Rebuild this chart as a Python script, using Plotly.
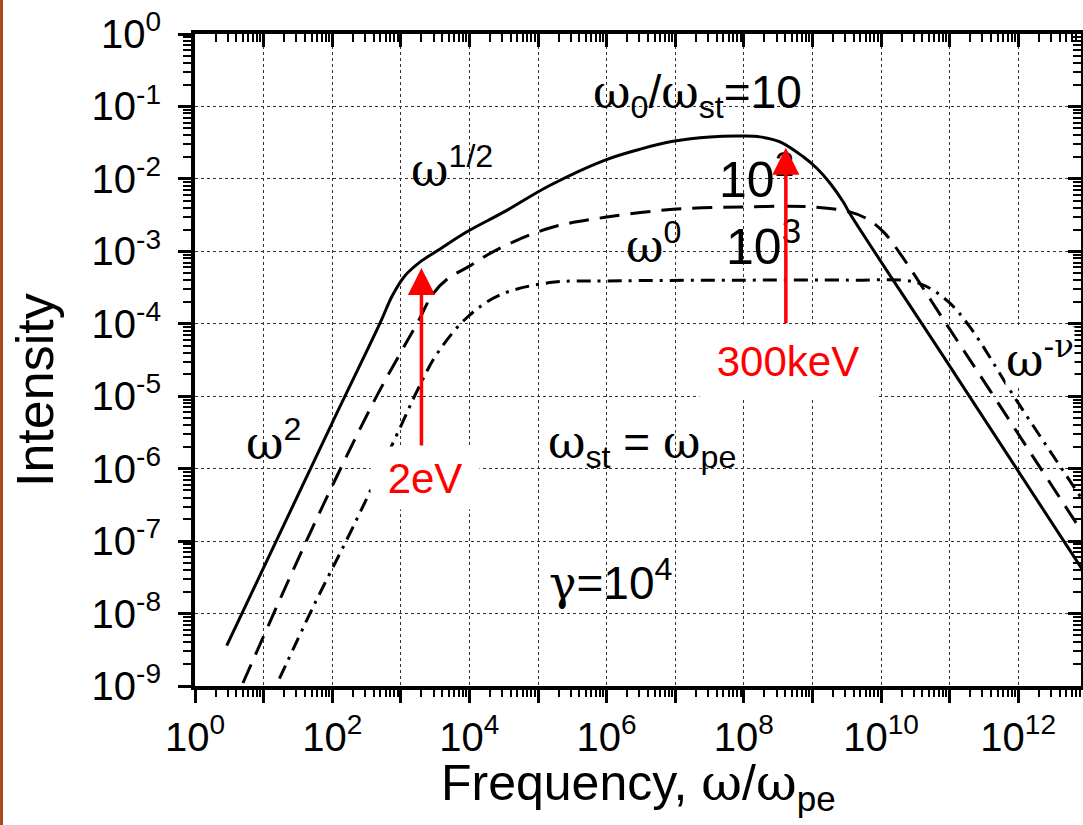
import math
import plotly.graph_objects as go

# ---------------- data ----------------
# omega_0/omega_st = 10 (solid)
solid_freq = [2.9, 1.0e2, 4.98e2, 7.45e2, 1.15e3, 1.9e3, 3.7e3, 9.2e3, 3.2e4, 1.48e5, 9.5e5, 3.2e6,
              9.3e6, 3.2e7, 9.8e7, 1.72e8, 3.37e8, 7.36e8, 1.16e9, 1.81e9, 2.82e9, 3.53e9, 9.1e10, 8.7e12]
solid_int = [3.6e-9, 4.3e-6, 1.02e-4, 2.4e-4, 4.6e-4, 7.1e-4, 1.07e-3, 1.86e-3, 3.5e-3, 8.1e-3, 1.82e-2, 2.6e-2,
             3.3e-2, 3.8e-2, 3.9e-2, 3.8e-2, 3.25e-2, 2.02e-2, 1.40e-2, 8.7e-3, 4.8e-3, 3.3e-3, 3.0e-5, 4.0e-8]

# omega_0/omega_st = 10^2 (dashed)
dash_freq = [5.0, 52, 3.9e2, 9.8e2, 1.74e3, 2.95e3, 5.0e3, 9.3e3, 2.5e4, 1.48e5, 9.5e5, 9.3e6,
             9.8e7, 1.0e9, 3.5e9, 6.3e9, 1.12e10, 2.1e10, 8.9e10, 4.0e11, 2.0e12, 8.7e12]
dash_int = [1.1e-9, 1.55e-7, 7.9e-6, 3.9e-5, 1.02e-4, 2.6e-4, 4.3e-4, 6.0e-4, 1.05e-3, 2.1e-3, 2.95e-3, 3.8e-3,
            4.1e-3, 4.1e-3, 3.5e-3, 2.8e-3, 1.8e-3, 8.1e-4, 1.0e-4, 1.15e-5, 1.1e-6, 1.3e-7]

# omega_0/omega_st = 10^3 (dash-dot)
dd_freq = [17, 52, 2.0e2, 9.8e2, 1.74e3, 3.4e3, 9.3e3, 2.8e4, 1.48e5, 1.0e6, 9.8e7,
           3.5e9, 3.3e10, 9.1e10, 2.0e11, 9.5e11, 8.7e12]
dd_int = [1.26e-9, 1.2e-8, 1.55e-7, 3.7e-6, 1.2e-5, 3.9e-5, 1.23e-4, 2.5e-4, 3.7e-4, 3.9e-4, 4.0e-4,
          4.0e-4, 3.7e-4, 2.1e-4, 8.9e-5, 8.7e-6, 3.7e-7]

# red arrows (tip positions) and their labels
arrow_freq = [2.0e3, 4.1e8]
arrow_tip_int = [5.9e-4, 2.7e-2]
arrow_labels = ["2eV", "300keV"]

# tick labels
x_tick_vals = [1e0, 1e1, 1e2, 1e3, 1e4, 1e5, 1e6, 1e7, 1e8, 1e9, 1e10, 1e11, 1e12]
x_tick_text = ["10<sup>0</sup>", "", "10<sup>2</sup>", "", "10<sup>4</sup>", "", "10<sup>6</sup>", "",
               "10<sup>8</sup>", "", "10<sup>10</sup>", "", "10<sup>12</sup>"]
y_tick_vals = [1e-9, 1e-8, 1e-7, 1e-6, 1e-5, 1e-4, 1e-3, 1e-2, 1e-1, 1e0]
y_tick_text = ["10<sup>-9</sup>", "10<sup>-8</sup>", "10<sup>-7</sup>", "10<sup>-6</sup>", "10<sup>-5</sup>",
               "10<sup>-4</sup>", "10<sup>-3</sup>", "10<sup>-2</sup>", "10<sup>-1</sup>", "10<sup>0</sup>"]

minor_x = [m * 10.0 ** k for k in range(0, 13) for m in range(2, 10)]
minor_y = [m * 10.0 ** k for k in range(-9, 0) for m in range(2, 10)]

# ---------------- figure ----------------
W, H = 1083, 825
ML, MR, MT, MB = 195, 2, 34, 139
PW, PH = W - ML - MR, H - MT - MB
XR = [0, PW / 68.6]
YR = [-9, 0]

SANS = "Liberation Sans, Arial, Helvetica, sans-serif"
OM = "<span style='font-family:DejaVu Serif'>ω</span>"
GAM = "<span style='font-family:DejaVu Serif'>γ</span>"
NU = "<span style='font-family:DejaVu Serif'>ν</span>"

fig = go.Figure()
line_common = dict(color="black", width=3, shape="spline", smoothing=1.0)
fig.add_trace(go.Scatter(x=solid_freq, y=solid_int, mode="lines",
                         line=dict(**line_common), hoverinfo="skip", showlegend=False))
fig.add_trace(go.Scatter(x=dash_freq, y=dash_int, mode="lines",
                         line=dict(**line_common, dash="20px,11px"), hoverinfo="skip", showlegend=False))
fig.add_trace(go.Scatter(x=dd_freq, y=dd_int, mode="lines",
                         line=dict(**line_common, dash="14px,7px,3px,7px"), hoverinfo="skip", showlegend=False))
# helper trace so the mirrored (top / right) axes get drawn
fig.add_trace(go.Scatter(x=[], y=[], xaxis="x2", yaxis="y2", hoverinfo="skip", showlegend=False))

base = dict(type="log", showline=True, linewidth=4, linecolor="black", zeroline=False,
            tickcolor="black", tickwidth=3, ticklen=13,
            tickfont=dict(family=SANS, size=40, color="black"))

fig.update_layout(
    width=W, height=H,
    margin=dict(l=ML, r=MR, t=MT, b=MB),
    paper_bgcolor="white", plot_bgcolor="white",
    xaxis=dict(**base, range=XR, ticks="outside", tickmode="array", tickvals=x_tick_vals,
               ticktext=x_tick_text, showgrid=True, gridcolor="#333", gridwidth=1, griddash="dot",
               minor=dict(ticks="outside", ticklen=7, tickwidth=2, tickcolor="black",
                          tickmode="array", tickvals=minor_x, showgrid=False)),
    yaxis=dict(**base, range=YR, ticks="outside", tickmode="array", tickvals=y_tick_vals,
               ticktext=y_tick_text, showgrid=True, gridcolor="#333", gridwidth=1, griddash="dot",
               ticklabelstandoff=9,
               minor=dict(ticks="outside", ticklen=8, tickwidth=2, tickcolor="black",
                          tickmode="array", tickvals=minor_y, showgrid=False)),
    xaxis2=dict(**base, range=XR, overlaying="x", side="top", anchor="y2", ticks="inside",
                tickmode="array", tickvals=x_tick_vals, showticklabels=False, showgrid=False,
                minor=dict(ticks="inside", ticklen=8, tickwidth=2, tickcolor="black",
                           tickmode="array", tickvals=minor_x, showgrid=False)),
    yaxis2=dict(**base, range=YR, overlaying="y", side="right", anchor="x2", ticks="inside",
                tickmode="array", tickvals=y_tick_vals, showticklabels=False, showgrid=False,
                minor=dict(ticks="inside", ticklen=8, tickwidth=2, tickcolor="black",
                           tickmode="array", tickvals=minor_y, showgrid=False)),
)

ann = []


def label(text, lx, ly, size, color="black", **kw):
    ann.append(dict(text=text, x=lx, y=ly, xref="x", yref="y", showarrow=False,
                    font=dict(family=SANS, size=size, color=color), **kw))


label(f"{OM}<sub>0</sub>/{OM}<sub>st</sub>=10", 7.32, -0.84, 46)
label("10<sup>2</sup>", 8.19, -1.96, 50)
label("10<sup>3</sup>", 8.28, -2.89, 50)
label(f"{OM}<sup>0</sup>", 6.68, -2.89, 46)
label(f"{OM}<sup>1/2</sup>", 3.75, -1.84, 46)
label(f"{OM}<sup>2</sup>", 1.15, -5.61, 46)
label(f"{OM}<sup>-{NU}</sup>", 12.32, -4.46, 46, bgcolor="white", borderpad=0)
label(f"{OM}<sub>st</sub> = {OM}<sub>pe</sub>", 6.52, -5.68, 46)
label(f"{GAM}=10<sup>4</sup>", 6.05, -7.54, 46)

# red arrow label boxes
label(arrow_labels[0], 3.35, -6.13, 42, color="#ff0000", bgcolor="white", borderpad=0, width=108, height=62)
label(arrow_labels[1], 8.64, -4.52, 42, color="#ff0000", bgcolor="white", borderpad=0, width=176, height=72)

# red arrows
for f, i, tail in zip(arrow_freq, arrow_tip_int, [179, 177]):
    ann.append(dict(text="", x=math.log10(f), y=math.log10(i), xref="x", yref="y",
                    showarrow=True, ax=0, ay=tail, axref="pixel", ayref="pixel",
                    arrowhead=2, arrowsize=1.55, arrowwidth=3.5, arrowcolor="#ff0000",
                    font=dict(size=1)))

# axis titles
ann.append(dict(text=f"Frequency, {OM}/{OM}<sub>pe</sub>", xref="paper", yref="paper",
                x=(638 - ML) / PW, y=-(752 - (H - MB)) / PH, xanchor="center", yanchor="top",
                showarrow=False, font=dict(family=SANS, size=50, color="black")))
ann.append(dict(text="Intensity", xref="paper", yref="paper", textangle=-90,
                x=(35 - ML) / PW, y=((H - MB) - 390) / PH, xanchor="center", yanchor="middle",
                showarrow=False, font=dict(family=SANS, size=52, color="black")))

fig.update_layout(annotations=ann)

# brown strip on the left edge of the page
fig.add_shape(type="rect", xref="paper", yref="paper",
              x0=-ML / PW, x1=(3 - ML) / PW,
              y0=-MB / PH, y1=(H - MB) / PH,
              fillcolor="#a8481e", line=dict(width=0), layer="above")

fig.write_html("out.html")
